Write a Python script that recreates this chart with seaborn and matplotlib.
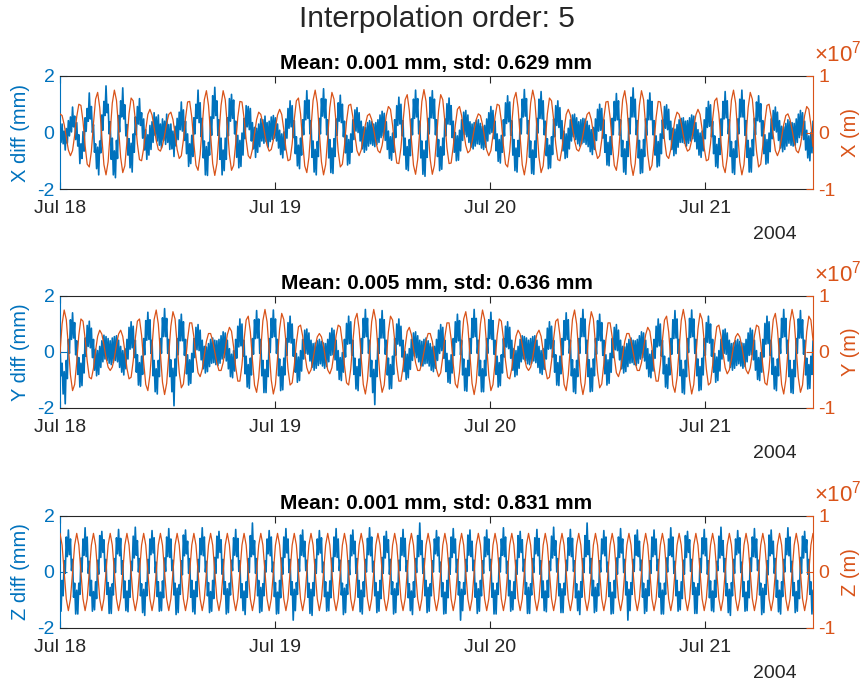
import numpy as np
import pandas as pd
import matplotlib
matplotlib.use("Agg")
import matplotlib.pyplot as plt
import matplotlib.dates as mdates
from matplotlib.ticker import FuncFormatter
import seaborn as sns

# ---------------- data ----------------
# Satellite position components, units of 1e5 m, 8 samples per Z-orbit, Jul 18 00:00 -> Jul 21 12:00
X_POS = [
 33, 30, 14, -9, -31, -41, -32, -5, 28, 50, 48, 20, -23, -56, -61, -33,
 16, 59, 71, 44, -8, -57, -75, -52, 0, 52, 75, 57, 8, -44, -71, -59,
 -16, 33, 61, 56, 23, -20, -48, -50, -28, 5, 32, 41, 31, 9, -14, -30,
 -33, -23, -5, 16, 32, 36, 23, -2, -30, -46, -41, -13, 25, 54, 55, 27,
 -19, -58, -67, -39, 12, 58, 74, 48, -4, -55, -76, -55, -4, 48, 74, 58,
 12, -39, -67, -58, -19, 27, 55, 54, 25, -13, -41, -46, -30, -2, 23, 36,
 32, 16, -5, -23, -33, -30, -14, 9, 31, 41, 32, 5, -28, -50, -48, -20,
 23, 56, 61, 33, -16, -59, -71, -44, 8, 57, 75, 52, 0, -52, -75, -57,
 -8, 44, 71, 59, 16, -33, -61, -56, -23, 20, 48, 50, 28, -5, -32, -41,
 -31, -9, 14, 30, 33, 23, 5, -16, -32, -36, -23, 2, 30, 46, 41, 13,
 -25, -54, -55, -27, 19, 58, 67, 39, -12, -58, -74, -48, 4, 55, 76, 55,
 4, -48, -74, -58, -12, 39, 67, 58, 19, -27, -55, -54, -25, 13, 41, 46,
 30, 2, -23, -36, -32, -16, 5, 23,
 33, 30, 14, -9, -31, -41, -32, -5, 28, 50, 48, 20, -23, -56, -61, -33,
 16, 59, 71, 44, -8, -57, -75, -52, 0, 52, 75, 57, 8, -44, -71, -59,
 -16, 33, 61, 56, 23, -20, -48, -50, -28, 5, 32, 41, 31, 9, -14, -30,
 -33, -23, -5, 16, 32, 36, 23, -2, -30, -46, -41, -13, 25, 54, 55, 27,
 -19, -58, -67, -39, 12, 58, 74, 48, -4, -55, -76, -55, -4, 48, 74, 58,
 12, -39, -67, -58, -19, 27, 55, 54, 25, -13, -41, -46, -30, -2, 23, 36,
 32, 16, -5, -23, -33, -30, -14, 9, 31, 41, 32, 5, -28, -50, -48, -20,
 23, 56, 61, 33, -16, -59, -71, -44, 8, 57, 75, 52, 0, -52, -75, -57,
 -8, 44, 71, 59, 16, -33, -61, -56, -23, 20, 48, 50, 28, -5, -32, -41,
 -31, -9, 14, 30, 33, 23, 5, -16, -32, -36, -23, 2, 30, 46, 41, 13,
 -25]

Y_POS = [
 -2, 50, 75, 58, 10, -41, -69, -58, -18, 30, 59, 55, 24, -16, -45, -48,
 -29, 2, 28, 39, 32, 13, -10, -27, -33, -27, -10, 13, 32, 39, 28, 2,
 -29, -48, -45, -16, 24, 55, 59, 30, -18, -58, -69, -41, 10, 58, 75, 50,
 -2, -54, -76, -56, -6, 46, 72, 59, 14, -36, -64, -57, -21, 23, 52, 52,
 27, -9, -37, -44, -31, -6, 19, 33, 33, 20, 0, -20, -33, -33, -19, 6,
 31, 44, 37, 9, -27, -52, -52, -23, 21, 57, 64, 36, -14, -59, -72, -46,
 6, 56, 76, 54, 2, -50, -75, -58, -10, 41, 69, 58, 18, -30, -59, -55,
 -24, 16, 45, 48, 29, -2, -28, -39, -32, -13, 10, 27, 33, 27, 10, -13,
 -32, -39, -28, -2, 29, 48, 45, 16, -24, -55, -59, -30, 18, 58, 69, 41,
 -10, -58, -75, -50, 2, 54, 76, 56, 6, -46, -72, -59, -14, 36, 64, 57,
 21, -23, -52, -52, -27, 9, 37, 44, 31, 6, -19, -33, -33, -20, 0, 20,
 33, 33, 19, -6, -31, -44, -37, -9, 27, 52, 52, 23, -21, -57, -64, -36,
 14, 59, 72, 46, -6, -56, -76, -54,
 -2, 50, 75, 58, 10, -41, -69, -58, -18, 30, 59, 55, 24, -16, -45, -48,
 -29, 2, 28, 39, 32, 13, -10, -27, -33, -27, -10, 13, 32, 39, 28, 2,
 -29, -48, -45, -16, 24, 55, 59, 30, -18, -58, -69, -41, 10, 58, 75, 50,
 -2, -54, -76, -56, -6, 46, 72, 59, 14, -36, -64, -57, -21, 23, 52, 52,
 27, -9, -37, -44, -31, -6, 19, 33, 33, 20, 0, -20, -33, -33, -19, 6,
 31, 44, 37, 9, -27, -52, -52, -23, 21, 57, 64, 36, -14, -59, -72, -46,
 6, 56, 76, 54, 2, -50, -75, -58, -10, 41, 69, 58, 18, -30, -59, -55,
 -24, 16, 45, 48, 29, -2, -28, -39, -32, -13, 10, 27, 33, 27, 10, -13,
 -32, -39, -28, -2, 29, 48, 45, 16, -24, -55, -59, -30, 18, 58, 69, 41,
 -10, -58, -75, -50, 2, 54, 76, 56, 6, -46, -72, -59, -14, 36, 64, 57,
 21]

Z_POS = [
 69, 48, 0, -48, -69, -48, 0, 48, 69, 48, 0, -48, -69, -48, 0, 48,
 69, 48, 0, -48, -69, -48, 0, 48, 69, 48, 0, -48, -69, -48, 0, 48,
 69, 48, 0, -48, -69, -48, 0, 48, 69, 48, 0, -48, -69, -48, 0, 48,
 69, 48, 0, -48, -69, -48, 0, 48, 69, 48, 0, -48, -69, -48, 0, 48,
 69, 48, 0, -48, -69, -48, 0, 48, 69, 48, 0, -48, -69, -48, 0, 48,
 69, 48, 0, -48, -69, -48, 0, 48, 69, 48, 0, -48, -69, -48, 0, 48,
 69, 48, 0, -48, -69, -48, 0, 48, 69, 48, 0, -48, -69, -48, 0, 48,
 69, 48, 0, -48, -69, -48, 0, 48, 69, 48, 0, -48, -69, -48, 0, 48,
 69, 48, 0, -48, -69, -48, 0, 48, 69, 48, 0, -48, -69, -48, 0, 48,
 69, 48, 0, -48, -69, -48, 0, 48, 69, 48, 0, -48, -69, -48, 0, 48,
 69, 48, 0, -48, -69, -48, 0, 48, 69, 48, 0, -48, -69, -48, 0, 48,
 69, 48, 0, -48, -69, -48, 0, 48, 69, 48, 0, -48, -69, -48, 0, 48,
 69, 48, 0, -48, -69, -48, 0, 48, 69, 48, 0, -48, -69, -48, 0, 48,
 69, 48, 0, -48, -69, -48, 0, 48, 69, 48, 0, -48, -69, -48, 0, 48,
 69, 48, 0, -48, -69, -48, 0, 48, 69, 48, 0, -48, -69, -48, 0, 48,
 69, 48, 0, -48, -69, -48, 0, 48, 69, 48, 0, -48, -69, -48, 0, 48,
 69, 48, 0, -48, -69, -48, 0, 48, 69, 48, 0, -48, -69, -48, 0, 48,
 69, 48, 0, -48, -69, -48, 0, 48, 69, 48, 0, -48, -69, -48, 0, 48,
 69, 48, 0, -48, -69, -48, 0, 48, 69, 48, 0, -48, -69, -48, 0, 48,
 69, 48, 0, -48, -69, -48, 0, 48, 69, 48, 0, -48, -69, -48, 0, 48,
 69, 48, 0, -48, -69, -48, 0, 48, 69, 48, 0, -48, -69, -48, 0, 48,
 69, 48, 0, -48, -69, -48, 0, 48, 69, 48, 0, -48, -69, -48, 0, 48,
 69, 48, 0, -48, -69, -48, 0, 48,
 69]

# Interpolation differences, units of 0.01 mm, 16 samples per Z-orbit
X_DIFF = [
 18,-35, 30,-40, 5,-62, 14,-38, 42,-12, 55,2, 90,20, 58,-25,
 35,-48, -8,-110, -40,-92, 3,-66, 52,4, 85,40, 140,48, 92,0,
 28,-70, -40,-128, -52,-150, -30,-72, 62,8, 110,60, 165,70, 100,-5,
 38,-95, -20,-150, -65,-160, -28,-92, 60,2, 112,55, 158,48, 98,-12,
 28,-80, -22,-125, -38,-140, -5,-70, 55,-8, 92,30, 120,25, 70,-20,
 48,-62, 10,-95, -8,-80, 25,-60, 38,-35, 70,-10, 55,-30, 62,-45,
 30,-55, 48,-28, 40,-42, 65,-35, 28,-60, 30,-58, 5,-85, 22,-48,
 50,-25, 72,10, 108,5, 80,-28, 40,-75, -5,-120, -40,-110, -10,-85,
 52,-5, 100,50, 150,35, 105,-15, 50,-90, -30,-150, -50,-152, -35,-80,
 55,-10, 130,50, 160,60, 112,-10, 45,-95, -20,-150, -62,-135, -20,-95,
 52,-12, 120,40, 135,50, 115,-5, 40,-88, -10,-125, -28,-120, -2,-80,
 50,-22, 95,20, 92,10, 85,-30, 35,-58, 18,-88, 15,-70, 30,-50,
 48,-30, 45,-38, 58,-32, 35,-52, 40,-32, 55,-25, 60,-20, 52,-30,
 30,-55, 8,-78, -5,-90, 2,-62, 48,-20, 85,15, 112,20, 95,-18,
 42,-75, -15,-118, -45,-128, -20,-80, 45,-8, 112,45, 148,50, 115,-5,
 42,-88, -30,-140, -60,-150, -32,-85, 50,-5, 120,58, 155,52, 118,-8,
 45,-90, -25,-142, -55,-145, -22,-85, 48,-10, 105,40, 132,35, 100,-15,
 40,-72, -10,-115, -25,-110, -5,-70, 45,-25, 80,5, 88,0, 70,-30,
 40,-58, 20,-70, 18,-62, 35,-48, 42,-40, 38,-45, 30,-50, 35,-42,
 45,-35, 62,-18, 75,-12, 68,-28, 38,-60, 5,-92, -15,-98, -2,-70,
 45,-18, 95,25, 125,30, 100,-12, 42,-80, -20,-130, -50,-135, -25,-82,
 48,-8, 118,50, 150,55, 120,-5, 40,-90, -30,-148, -62,-155, -30,-88,
 50,-5, 125,52, 148,50, 118,-8, 45,-85, -25,-135, -50,-130, -20,-80,
 48,-12, 102,30, 122,28, 95,-18, 40,-70, 0,-100, -12,-98, 8,-65,
 45,-28, 72,-8, 78,-15, 62,-35, 38,-52, 30,-58, 35,-48, 42,-40,
 45,-42, 32,-55, 22,-60, 25,-52, 48,-30, 70,-5, 92,0, 78,-22,
 40,-65, -5,-102, -25,-108, -10,-70, 45,-12, 105,32, 130,38, 108,-10,
 42,-80, -25,-135, -55,-140, -28,-85, 48,-5, 118,55, 152,58, 120,-5,
 42,-88, -30,-145, -62,-148, -30,-88, 50,-2, 118,50, 145,48, 112,-8,
 40,-82, -22,-128, -45,-125, -15,-78, 48,-15, 95,25, 112,18, 88,-22,
 42,-65, 5,-92, -5,-88, 15,-58, 45,-30, 62,-15, 65,-25, 52,-40,
 38,-48, 45,-40, 50,-35, 48,-42, 40,-50, 25,-68, 10,-78, 18,-60,
 48,-28, 82,5, 100,8, 85,-20, 45,-70, -8,-115, -35,-118, -15,-78,
 50,-8, 110,42, 138,45, 112,-10, 45,-85, -28,-140, -58,-148, -32,-85,
 50,-5, 125,55, 158,55, 118,-8, 42,-90, -28,-145, -60,-142, -25,-85,
 48,-10, 115,45, 140,45, 110,-8, 42,-80, -12,-122, -32,-118, -5,-75,
 45,-20, 92,15, 98,10, 82,-25, 40,-60, 15,-82, 12,-75, 28,-52,
 45,-35, 50,-35, 52,-38, 40,-48, 42,-38, 52,-30, 62,-22, 58,-32,
 35,-58, 10,-80, -2,-88, 5,-65, 45,-22, 88,18, 110,22, 98,-15,
 40,-75, -12,-120, -42,-125, -22,-78, 48,-10, 110,48, 145,52, 112,-5,
 45,-85, -32,-142, -58,-148, -30,-88, 48,-5, 118,55, 150,55, 115,-10,
 42,-88, -28,-140, -55,-140, -25,-82, 50,-8, 108,42, 130,38, 102,-12,
 42,-75, -8,-112, -25,-108, -2,-68, 48,-22, 78,8, 90,2, 72,-28,
 42,-55, 22,-68, 20,-60, 32,-48, 45,-38, 40,-45, 35,-48, 32,-45,
 48,-35, 65,-18, 78,-10, 70,-25, 40,-62, 8,-90, -12,-100, 0,-72,
 40]

Y_DIFF = [
 20,-85, -40,-150, -70,-185, -30,-95, 45,-5, 115,45, 140,50, 105,-10,
 40,-80, -20,-125, -40,-120, -10,-75, 50,-15, 95,20, 110,15, 85,-20,
 45,-65, 10,-85, 5,-80, 20,-55, 40,-35, 60,-25, 55,-30, 48,-40,
 40,-45, 50,-38, 55,-30, 58,-35, 42,-55, 20,-72, 5,-82, 12,-60,
 45,-25, 88,10, 108,15, 92,-20, 42,-72, -10,-118, -38,-122, -15,-80,
 48,-10, 112,42, 142,45, 115,-5, 42,-85, -30,-142, -60,-150, -30,-88,
 48,-5, 122,55, 155,55, 120,-5, 45,-88, -28,-142, -58,-192, -25,-85,
 48,-10, 115,40, 135,40, 108,-12, 45,-78, -10,-118, -28,-112, -5,-72,
 48,-20, 88,8, 98,5, 78,-28, 42,-60, 20,-75, 18,-70, 30,-52,
 45,-40, 50,-38, 42,-45, 40,-48, 45,-40, 58,-25, 72,-20, 68,-32,
 42,-60, 12,-88, -8,-92, 5,-68, 45,-22, 92,18, 118,22, 100,-15,
 42,-78, -15,-125, -45,-130, -22,-82, 48,-8, 115,48, 148,50, 118,-5,
 45,-85, -30,-145, -62,-145, -30,-88, 48,-2, 120,52, 150,55, 118,-5,
 45,-85, -25,-138, -52,-135, -22,-82, 48,-12, 105,35, 128,32, 100,-15,
 45,-72, -5,-108, -18,-102, 5,-68, 45,-25, 78,-5, 82,-8, 68,-32,
 42,-55, 30,-65, 32,-58, 40,-48, 45,-42, 38,-50, 32,-58, 30,-52,
 45,-35, 68,-12, 85,-10, 78,-28, 42,-65, 5,-98, -20,-102, -2,-72,
 45,-18, 102,28, 128,30, 108,-12, 42,-80, -22,-132, -52,-138, -25,-85,
 48,-5, 120,52, 152,55, 120,-5, 42,-88, -30,-145, -62,-188, -30,-88,
 48,-5, 118,50, 148,50, 115,-8, 42,-82, -22,-132, -45,-130, -15,-80,
 48,-12, 100,28, 118,22, 92,-18, 42,-70, 2,-98, -8,-92, 12,-62,
 45,-30, 68,-15, 72,-20, 58,-35, 42,-50, 38,-50, 45,-42, 50,-40,
 40,-50, 30,-65, 18,-70, 20,-58, 45,-30, 78,-5, 98,5, 88,-22,
 42,-70, -5,-108, -30,-112, -10,-75, 48,-12, 108,35, 135,40, 112,-10,
 42,-82, -25,-138, -58,-140, -30,-85, 48,-5, 120,52, 152,55, 120,-5,
 42,-85, -30,-142, -60,-142, -30,-85, 48,-5, 115,48, 142,45, 112,-8,
 42,-80, -15,-125, -38,-120, -10,-75, 48,-18, 92,18, 108,12, 88,-22,
 42,-65, 12,-88, 5,-82, 20,-58, 45,-35, 58,-25, 55,-32, 50,-42,
 42,-45, 48,-40, 55,-32, 58,-38, 42,-55, 20,-75, 5,-80, 12,-62,
 45,-25, 85,10, 108,12, 92,-18, 42,-72, -10,-118, -38,-120, -15,-78,
 48,-10, 112,42, 140,45, 115,-5, 42,-85, -28,-142, -60,-148, -30,-88,
 48,-5, 120,55, 152,55, 118,-5, 42,-88, -28,-142, -58,-140, -25,-85,
 48,-8, 112,42, 135,40, 105,-12, 42,-78, -10,-118, -28,-112, -5,-72,
 48,-20, 88,8, 98,5, 78,-28, 42,-60, 20,-75, 18,-70, 30,-52,
 45,-40, 50,-38, 42,-45, 40,-48, 45,-40, 58,-25, 72,-20, 68,-32,
 42,-60, 12,-88, -8,-92, 5,-68, 45,-22, 92,18, 118,22, 100,-15,
 42,-78, -15,-125, -45,-130, -22,-82, 48,-8, 115,48, 148,50, 118,-5,
 45,-85, -30,-145, -62,-150, -30,-88, 48,-2, 120,52, 150,55, 118,-5,
 45,-85, -25,-138, -52,-135, -22,-82, 48,-12, 105,35, 128,32, 100,-15,
 45,-72, -5,-108, -18,-102, 5,-68, 45,-25, 78,-5, 82,-8, 68,-32,
 42,-55, 30,-65, 32,-58, 40,-48, 45,-42, 38,-50, 32,-58, 30,-52,
 45,-35, 68,-12, 85,-10, 78,-28, 42,-65, 5,-98, -20,-102, -2,-72,
 45,-18, 102,28, 128,30, 108,-12, 42,-80, -22,-132, -52,-138, -25,-85,
 48,-5, 120,52, 152,55, 120,-5, 42,-88, -30,-145, -62,-148, -30,-88,
 48,-5, 118,50, 148,50, 115,-8, 42,-82, -22,-132, -45,-130, -15,-80,
 40]

Z_DIFF = [
 -60,-140, -30,-85, 40,-5, 125,55, 150,62, 118,5, 45,-90, -40,-150,
 -65,-150, -40,-80, 50,0, 118,60, 158,55, 125,-5, 38,-85, -30,-140,
 -70,-135, -35,-95, 42,-8, 130,52, 145,70, 115,2, 45,-80, -38,-148,
 -55,-148, -42,-82, 48,-2, 122,65, 152,58, 120,-8, 40,-92, -32,-138,
 -68,-142, -30,-90, 38,5, 128,50, 160,60, 112,0, 48,-85, -42,-145,
 -62,-155, -38,-85, 45,-5, 118,62, 148,68, 122,-2, 35,-88, -35,-140,
 -72,-138, -32,-92, 50,2, 125,55, 155,52, 118,5, 42,-82, -40,-152,
 -58,-145, -45,-80, 40,-10, 132,58, 150,65, 110,-5, 48,-90, -30,-142,
 -65,-150, -35,-88, 45,0, 120,62, 158,58, 125,0, 38,-85, -38,-145,
 -70,-140, -30,-95, 52,-5, 128,50, 145,70, 115,-8, 45,-80, -35,-150,
 -60,-145, -40,-82, 42,5, 122,60, 152,55, 120,2, 40,-92, -42,-138,
 -68,-152, -35,-90, 48,-2, 130,55, 175,62, 112,-5, 48,-85, -30,-145,
 -55,-140, -42,-85, 40,0, 118,65, 148,58, 125,0, 35,-88, -38,-150,
 -72,-148, -30,-92, 50,-8, 125,52, 155,68, 118,-2, 45,-82, -35,-172,
 -62,-138, -38,-80, 45,2, 132,60, 150,55, 110,5, 42,-90, -40,-148,
 -62,-155, -38,-85, 45,-5, 118,62, 148,68, 122,-2, 35,-88, -35,-140,
 -72,-138, -32,-92, 50,2, 125,55, 155,52, 118,5, 42,-82, -40,-152,
 -58,-145, -45,-80, 40,-10, 132,58, 150,65, 110,-5, 48,-90, -30,-142,
 -65,-150, -35,-88, 45,0, 120,62, 158,58, 125,0, 38,-85, -38,-145,
 -70,-140, -30,-95, 52,-5, 128,50, 145,70, 115,-8, 45,-80, -35,-150,
 -60,-145, -40,-82, 42,5, 122,60, 152,55, 120,2, 40,-92, -42,-138,
 -68,-152, -35,-90, 48,-2, 130,55, 175,62, 112,-5, 48,-85, -30,-145,
 -55,-140, -42,-85, 40,0, 118,65, 148,58, 125,0, 35,-88, -38,-150,
 -72,-148, -30,-92, 50,-8, 125,52, 155,68, 118,-2, 45,-82, -35,-172,
 -62,-138, -38,-80, 45,2, 132,60, 150,55, 110,5, 42,-90, -40,-148,
 -60,-140, -30,-85, 40,-5, 125,55, 150,62, 118,5, 45,-90, -40,-150,
 -65,-150, -40,-80, 50,0, 118,60, 158,55, 125,-5, 38,-85, -30,-140,
 -70,-135, -35,-95, 42,-8, 130,52, 145,70, 115,2, 45,-80, -38,-148,
 -55,-148, -42,-82, 48,-2, 122,65, 152,58, 120,-8, 40,-92, -32,-138,
 -68,-142, -30,-90, 38,5, 128,50, 160,60, 112,0, 48,-85, -42,-145,
 -60,-145, -40,-82, 42,5, 122,60, 152,55, 120,2, 40,-92, -42,-138,
 -68,-152, -35,-90, 48,-2, 130,55, 175,62, 112,-5, 48,-85, -30,-145,
 -55,-140, -42,-85, 40,0, 118,65, 148,58, 125,0, 35,-88, -38,-150,
 -72,-148, -30,-92, 50,-8, 125,52, 155,68, 118,-2, 45,-82, -35,-172,
 -62,-138, -38,-80, 45,2, 132,60, 150,55, 110,5, 42,-90, -40,-148,
 -60,-140, -30,-85, 40,-5, 125,55, 150,62, 118,5, 45,-90, -40,-150,
 -65,-150, -40,-80, 50,0, 118,60, 158,55, 125,-5, 38,-85, -30,-140,
 -70,-135, -35,-95, 42,-8, 130,52, 145,70, 115,2, 45,-80, -38,-148,
 -55,-148, -42,-82, 48,-2, 122,65, 152,58, 120,-8, 40,-92, -32,-138,
 -68,-142, -30,-90, 38,5, 128,50, 160,60, 112,0, 48,-85, -42,-145,
 -62,-155, -38,-85, 45,-5, 118,62, 148,68, 122,-2, 35,-88, -35,-140,
 -72,-138, -32,-92, 50,2, 125,55, 155,52, 118,5, 42,-82, -40,-152,
 -58,-145, -45,-80, 40,-10, 132,58, 150,65, 110,-5, 48,-90, -30,-142,
 -65,-150, -35,-88, 45,0, 120,62, 158,58, 125,0, 38,-85, -38,-145,
 -70,-140, -30,-95, 52,-5, 128,50, 145,70, 115,-8, 45,-80, -35,-150,
 -65]

TITLE = "Interpolation order: 5"
COMPONENTS = ["X", "Y", "Z"]
MEANS = ["0.001", "0.005", "0.001"]
STDS = ["0.629", "0.636", "0.831"]
START = "2004-07-18 00:00"
END = "2004-07-21 12:00"
YEAR_LABEL = "2004"
POS_EXPONENT = 7

# ---------------- style ----------------
BLUE = "#0072BD"
ORANGE = "#D95319"
DARK = "#262626"

sns.set_theme(style="white")
plt.rcParams["font.family"] = ["Liberation Sans", "DejaVu Sans"]
plt.rcParams["mathtext.fontset"] = "custom"
plt.rcParams["mathtext.rm"] = "Liberation Sans"
plt.rcParams["mathtext.it"] = "Liberation Sans:italic"
plt.rcParams["mathtext.bf"] = "Liberation Sans:bold"
plt.rcParams["axes.unicode_minus"] = False

W, H = 867, 686
fig = plt.figure(figsize=(W / 100, H / 100), dpi=100)
fig.patch.set_facecolor("white")
fig.text(437 / W, 1 - 27 / H, TITLE, ha="center", va="baseline",
         fontsize=21.5, color=DARK)

boxes = [(60, 76, 813, 189), (60, 296, 813, 408), (60, 516, 813, 628)]
pos_data = [X_POS, Y_POS, Z_POS]
diff_data = [X_DIFF, Y_DIFF, Z_DIFF]

t_pos = pd.date_range(START, END, periods=len(X_POS))
t_diff = pd.date_range(START, END, periods=len(X_DIFF))

scale = 10.0 ** POS_EXPONENT
pos_fmt = FuncFormatter(lambda v, p: f"{v / scale:g}")

for i, comp in enumerate(COMPONENTS):
    l, t, r, b = boxes[i]
    ax = fig.add_axes([l / W, 1 - b / H, (r - l) / W, (b - t) / H])
    ax.set_facecolor("white")
    dfd = pd.DataFrame({"time": t_diff, "diff": np.asarray(diff_data[i]) / 100.0})
    sns.lineplot(data=dfd, x="time", y="diff", ax=ax, color=BLUE,
                 linewidth=1.2, estimator=None, errorbar=None)
    ax2 = ax.twinx()
    dfp = pd.DataFrame({"time": t_pos, "pos": np.asarray(pos_data[i]) * 1e5})
    sns.lineplot(data=dfp, x="time", y="pos", ax=ax2, color=ORANGE,
                 linewidth=0.9, estimator=None, errorbar=None)

    ax.set_xlim(pd.Timestamp(START), pd.Timestamp(END))
    ax.set_ylim(-2, 2)
    ax.set_yticks([-2, 0, 2])
    ax2.set_ylim(-scale, scale)
    ax2.set_yticks([-scale, 0, scale])
    ax2.yaxis.set_major_formatter(pos_fmt)

    ax.xaxis.set_major_locator(mdates.DayLocator())
    ax.xaxis.set_major_formatter(mdates.DateFormatter("%b %d"))

    ax.set_xlabel("")
    ax.set_ylabel(f"{comp} diff (mm)", color=BLUE, fontsize=14.5, labelpad=5)
    ax2.set_ylabel(f"{comp} (m)", color=ORANGE, fontsize=14.5, labelpad=4)
    ax.set_title(f"Mean: {MEANS[i]} mm, std: {STDS[i]} mm",
                 fontsize=15, fontweight="bold", color="black", pad=5)

    ax.tick_params(axis="x", direction="in", length=5, width=0.8, colors=DARK,
                   labelsize=14, top=True, bottom=True, pad=8)
    ax.tick_params(axis="y", direction="in", length=5, width=0.8, colors=BLUE,
                   labelsize=14, left=True, right=False, pad=4)
    ax2.tick_params(axis="y", direction="in", length=5, width=0.8, colors=ORANGE,
                    labelsize=14, right=True, left=False, pad=4)

    for name, sp in ax.spines.items():
        sp.set_linewidth(0.8)
        sp.set_color(DARK)
    ax.spines["left"].set_color(BLUE)
    ax.spines["right"].set_visible(False)
    for name, sp in ax2.spines.items():
        sp.set_visible(name == "right")
    ax2.spines["right"].set_color(ORANGE)
    ax2.spines["right"].set_linewidth(0.8)

    ax.annotate(YEAR_LABEL, xy=(0.9495, 0), xycoords="axes fraction",
                xytext=(0, -33), textcoords="offset points",
                ha="center", va="center", fontsize=14, color=DARK)
    # axis multiplier, MATLAB style: above the right axis, left-aligned
    ax2.annotate(r"$\times\mathdefault{10^{%d}}$" % POS_EXPONENT, xy=(1, 1),
                 xycoords="axes fraction", xytext=(1.0, 10.5),
                 textcoords="offset points", ha="left", va="baseline",
                 fontsize=16, color=ORANGE)

fig.savefig("out.png", dpi=100, facecolor="white")
